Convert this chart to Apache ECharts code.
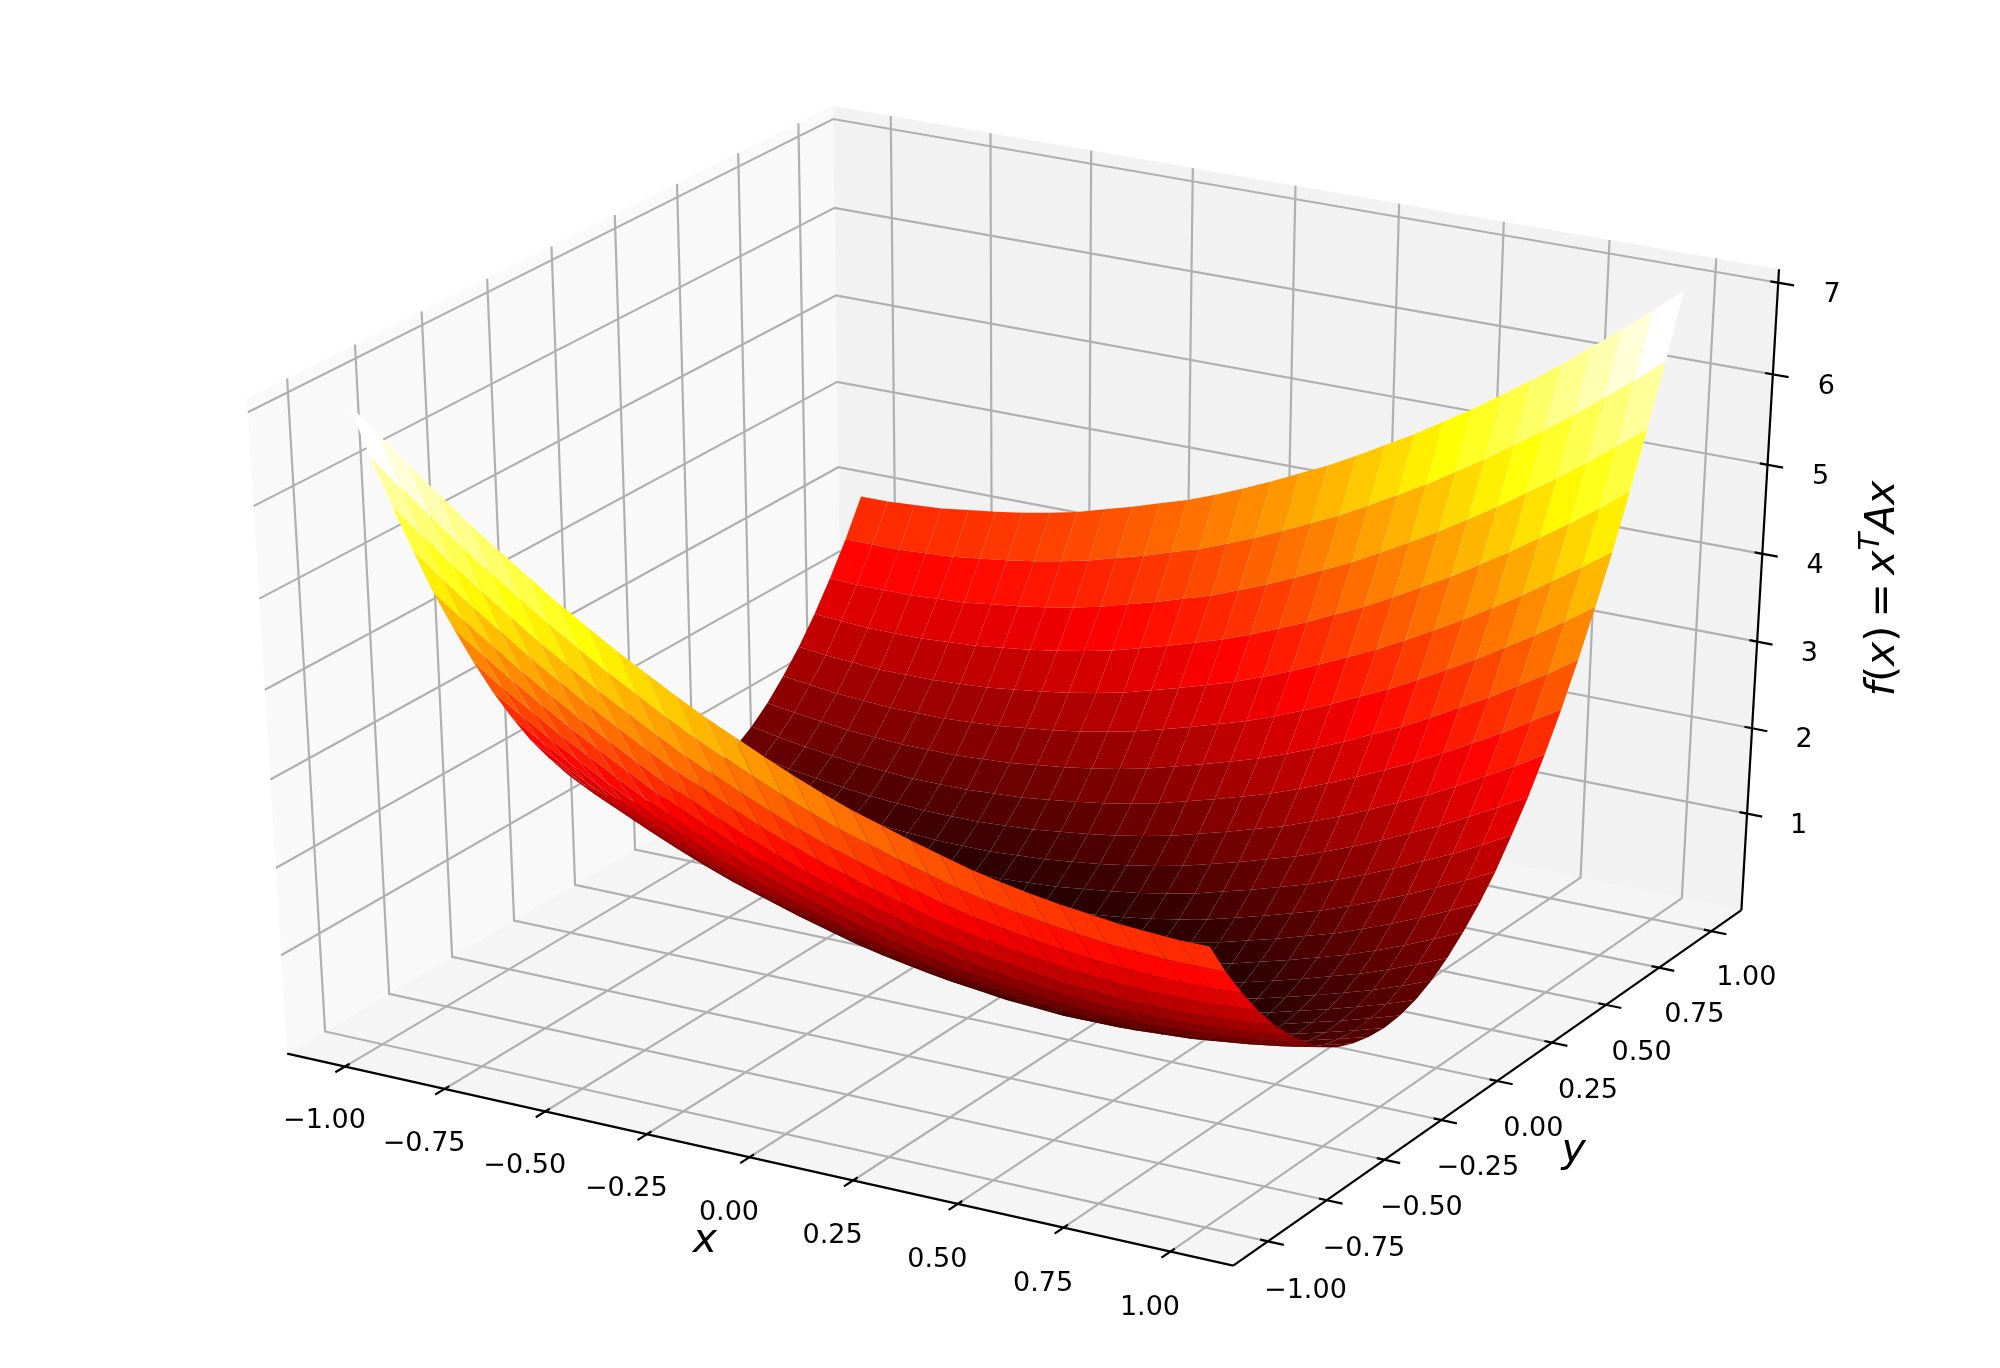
<!DOCTYPE html>
<html>
<head>
<meta charset="utf-8">
<style>html,body{margin:0;padding:0;background:#fff}#c{width:2000px;height:1368px}</style>
<script src="https://cdn.jsdelivr.net/npm/echarts@6/dist/echarts.min.js"></script>
</head>
<body>
<div id="c"></div>
<script>
// Surface sample positions
const xValues = [-1,-0.931,-0.862,-0.793,-0.724,-0.655,-0.586,-0.517,-0.448,-0.379,-0.31,-0.241,-0.172,-0.103,-0.034,0.034,0.103,0.172,0.241,0.31,0.379,0.448,0.517,0.586,0.655,0.724,0.793,0.862,0.931,1];
const yValues = xValues.slice();
// f(x) values: one row per y, one column per x
const zRows = [
[7.00,6.73,6.47,6.22,5.97,5.74,5.52,5.30,5.10,4.90,4.72,4.54,4.37,4.22,4.07,3.93,3.80,3.68,3.58,3.48,3.39,3.30,3.23,3.17,3.12,3.08,3.04,3.02,3.00,3.00],
[6.33,6.07,5.82,5.57,5.34,5.12,4.90,4.70,4.50,4.32,4.14,3.97,3.82,3.67,3.53,3.40,3.28,3.18,3.08,2.99,2.90,2.83,2.77,2.72,2.68,2.64,2.62,2.60,2.60,2.60],
[5.70,5.45,5.20,4.97,4.75,4.53,4.33,4.13,3.95,3.77,3.60,3.45,3.30,3.16,3.03,2.91,2.81,2.71,2.62,2.53,2.46,2.40,2.35,2.31,2.27,2.25,2.23,2.23,2.23,2.25],
[5.11,4.86,4.63,4.41,4.19,3.99,3.79,3.61,3.43,3.26,3.11,2.96,2.82,2.69,2.57,2.47,2.37,2.28,2.19,2.12,2.06,2.01,1.97,1.93,1.91,1.89,1.89,1.89,1.91,1.93],
[4.54,4.31,4.09,3.87,3.67,3.47,3.29,3.11,2.94,2.79,2.64,2.50,2.37,2.25,2.15,2.05,1.96,1.87,1.80,1.74,1.69,1.65,1.61,1.59,1.57,1.57,1.57,1.59,1.61,1.65],
[4.03,3.81,3.59,3.39,3.19,3.01,2.83,2.66,2.51,2.36,2.22,2.09,1.97,1.87,1.77,1.68,1.59,1.52,1.46,1.41,1.37,1.33,1.31,1.29,1.29,1.29,1.31,1.33,1.37,1.41],
[3.55,3.33,3.13,2.93,2.75,2.57,2.40,2.25,2.10,1.96,1.83,1.71,1.61,1.51,1.42,1.33,1.26,1.20,1.15,1.11,1.07,1.05,1.03,1.03,1.03,1.05,1.07,1.11,1.15,1.20],
[3.10,2.90,2.70,2.52,2.34,2.17,2.02,1.87,1.73,1.60,1.48,1.38,1.28,1.19,1.10,1.03,0.97,0.92,0.88,0.84,0.82,0.80,0.80,0.80,0.82,0.84,0.88,0.92,0.97,1.03],
[2.70,2.50,2.32,2.14,1.97,1.82,1.67,1.53,1.40,1.28,1.18,1.08,0.99,0.90,0.83,0.77,0.72,0.68,0.64,0.62,0.60,0.60,0.60,0.62,0.64,0.68,0.72,0.77,0.83,0.90],
[2.33,2.15,1.97,1.80,1.65,1.50,1.36,1.23,1.11,1.01,0.91,0.82,0.73,0.66,0.60,0.55,0.51,0.47,0.45,0.43,0.43,0.43,0.45,0.47,0.51,0.55,0.60,0.66,0.73,0.82],
[2.01,1.83,1.66,1.51,1.36,1.22,1.09,0.97,0.87,0.77,0.68,0.59,0.52,0.46,0.41,0.37,0.33,0.31,0.29,0.29,0.29,0.31,0.33,0.37,0.41,0.46,0.52,0.59,0.68,0.77],
[1.71,1.54,1.39,1.24,1.10,0.97,0.85,0.75,0.65,0.56,0.47,0.40,0.34,0.29,0.25,0.21,0.19,0.17,0.17,0.17,0.19,0.21,0.25,0.29,0.34,0.40,0.47,0.56,0.65,0.75],
[1.46,1.31,1.16,1.02,0.89,0.77,0.67,0.57,0.48,0.39,0.32,0.26,0.21,0.17,0.13,0.11,0.09,0.09,0.09,0.11,0.13,0.17,0.21,0.26,0.32,0.39,0.48,0.57,0.67,0.77],
[1.25,1.10,0.96,0.83,0.71,0.61,0.51,0.42,0.33,0.26,0.20,0.15,0.11,0.07,0.05,0.03,0.03,0.03,0.05,0.07,0.11,0.15,0.20,0.26,0.33,0.42,0.51,0.61,0.71,0.83],
[1.07,0.93,0.80,0.68,0.58,0.48,0.39,0.30,0.23,0.17,0.12,0.08,0.04,0.02,0.00,0.00,0.00,0.02,0.04,0.08,0.12,0.17,0.23,0.30,0.39,0.48,0.58,0.68,0.80,0.93],
[0.93,0.80,0.68,0.58,0.48,0.39,0.30,0.23,0.17,0.12,0.08,0.04,0.02,0.00,0.00,0.00,0.02,0.04,0.08,0.12,0.17,0.23,0.30,0.39,0.48,0.58,0.68,0.80,0.93,1.07],
[0.83,0.71,0.61,0.51,0.42,0.33,0.26,0.20,0.15,0.11,0.07,0.05,0.03,0.03,0.03,0.05,0.07,0.11,0.15,0.20,0.26,0.33,0.42,0.51,0.61,0.71,0.83,0.96,1.10,1.25],
[0.77,0.67,0.57,0.48,0.39,0.32,0.26,0.21,0.17,0.13,0.11,0.09,0.09,0.09,0.11,0.13,0.17,0.21,0.26,0.32,0.39,0.48,0.57,0.67,0.77,0.89,1.02,1.16,1.31,1.46],
[0.75,0.65,0.56,0.47,0.40,0.34,0.29,0.25,0.21,0.19,0.17,0.17,0.17,0.19,0.21,0.25,0.29,0.34,0.40,0.47,0.56,0.65,0.75,0.85,0.97,1.10,1.24,1.39,1.54,1.71],
[0.77,0.68,0.59,0.52,0.46,0.41,0.37,0.33,0.31,0.29,0.29,0.29,0.31,0.33,0.37,0.41,0.46,0.52,0.59,0.68,0.77,0.87,0.97,1.09,1.22,1.36,1.51,1.66,1.83,2.01],
[0.82,0.73,0.66,0.60,0.55,0.51,0.47,0.45,0.43,0.43,0.43,0.45,0.47,0.51,0.55,0.60,0.66,0.73,0.82,0.91,1.01,1.11,1.23,1.36,1.50,1.65,1.80,1.97,2.15,2.33],
[0.90,0.83,0.77,0.72,0.68,0.64,0.62,0.60,0.60,0.60,0.62,0.64,0.68,0.72,0.77,0.83,0.90,0.99,1.08,1.18,1.28,1.40,1.53,1.67,1.82,1.97,2.14,2.32,2.50,2.70],
[1.03,0.97,0.92,0.88,0.84,0.82,0.80,0.80,0.80,0.82,0.84,0.88,0.92,0.97,1.03,1.10,1.19,1.28,1.38,1.48,1.60,1.73,1.87,2.02,2.17,2.34,2.52,2.70,2.90,3.10],
[1.20,1.15,1.11,1.07,1.05,1.03,1.03,1.03,1.05,1.07,1.11,1.15,1.20,1.26,1.33,1.42,1.51,1.61,1.71,1.83,1.96,2.10,2.25,2.40,2.57,2.75,2.93,3.13,3.33,3.55],
[1.41,1.37,1.33,1.31,1.29,1.29,1.29,1.31,1.33,1.37,1.41,1.46,1.52,1.59,1.68,1.77,1.87,1.97,2.09,2.22,2.36,2.51,2.66,2.83,3.01,3.19,3.39,3.59,3.81,4.03],
[1.65,1.61,1.59,1.57,1.57,1.57,1.59,1.61,1.65,1.69,1.74,1.80,1.87,1.96,2.05,2.15,2.25,2.37,2.50,2.64,2.79,2.94,3.11,3.29,3.47,3.67,3.87,4.09,4.31,4.54],
[1.93,1.91,1.89,1.89,1.89,1.91,1.93,1.97,2.01,2.06,2.12,2.19,2.28,2.37,2.47,2.57,2.69,2.82,2.96,3.11,3.26,3.43,3.61,3.79,3.99,4.19,4.41,4.63,4.86,5.11],
[2.25,2.23,2.23,2.23,2.25,2.27,2.31,2.35,2.40,2.46,2.53,2.62,2.71,2.81,2.91,3.03,3.16,3.30,3.45,3.60,3.77,3.95,4.13,4.33,4.53,4.75,4.97,5.20,5.45,5.70],
[2.60,2.60,2.60,2.62,2.64,2.68,2.72,2.77,2.83,2.90,2.99,3.08,3.18,3.28,3.40,3.53,3.67,3.82,3.97,4.14,4.32,4.50,4.70,4.90,5.12,5.34,5.57,5.82,6.07,6.33],
[3.00,3.00,3.02,3.04,3.08,3.12,3.17,3.23,3.30,3.39,3.48,3.58,3.68,3.80,3.93,4.07,4.22,4.37,4.54,4.72,4.90,5.10,5.30,5.52,5.74,5.97,6.22,6.47,6.73,7.00]
];
// Axis ticks and labels
const xTicks = [-1,-0.75,-0.5,-0.25,0,0.25,0.5,0.75,1];
const xTickLabels = ['\u22121.00','\u22120.75','\u22120.50','\u22120.25','0.00','0.25','0.50','0.75','1.00'];
const yTicks = xTicks.slice();
const yTickLabels = xTickLabels.slice();
const zTicks = [1,2,3,4,5,6,7];
const zTickLabels = ['1','2','3','4','5','6','7'];
// Axis limits
const xLim = [-1.1,1.1];
const yLim = [-1.1,1.1];
const zLim = [0,7];
// "hot" colour ramp stops
const hotRed = [[0,0.0416],[0.365079,1],[1,1]];
const hotGreen = [[0,0],[0.365079,0],[0.746032,1],[1,1]];
const hotBlue = [[0,0],[0.746032,0],[1,1]];

// view settings
const ELEV = 30*Math.PI/180, AZIM = -60*Math.PI/180, DIST = 10;
const SX = 10483, SY = 7178, CX = 1026, CY = 665.2;
const FONT = '"DejaVu Sans"';
const TICK_FS = 27;
const TITLE_FS = 41;

const n = [Math.cos(AZIM)*Math.cos(ELEV), Math.sin(AZIM)*Math.cos(ELEV), Math.sin(ELEV)];
const uLen = Math.hypot(n[0],n[1]);
const u = [-n[1]/uLen, n[0]/uLen, 0];
const v = [n[1]*u[2]-n[2]*u[1], n[2]*u[0]-n[0]*u[2], n[0]*u[1]-n[1]*u[0]];
function project(x,y,z){
  const a=(x-xLim[0])/(xLim[1]-xLim[0])-0.5, b=(y-yLim[0])/(yLim[1]-yLim[0])-0.5, c=(z-zLim[0])/(zLim[1]-zLim[0])-0.5;
  const w = DIST-(n[0]*a+n[1]*b+n[2]*c);
  return {X:(u[0]*a+u[1]*b+u[2]*c)/w, Y:(v[0]*a+v[1]*b+v[2]*c)/w, w:w};
}
function ramp(stops,t){
  for(let i=1;i<stops.length;i++){
    if(t<=stops[i][0]){
      const s=stops[i-1], e=stops[i];
      return s[1]+(e[1]-s[1])*(t-s[0])/(e[0]-s[0]);
    }
  }
  return stops[stops.length-1][1];
}
function hot(t){
  t=Math.max(0,Math.min(1,t));
  return 'rgb('+Math.round(255*ramp(hotRed,t))+','+Math.round(255*ramp(hotGreen,t))+','+Math.round(255*ramp(hotBlue,t))+')';
}
// box extents: the panes sit 1/48 of the range outside the limits
const dX=(xLim[1]-xLim[0])/12, dY=(yLim[1]-yLim[0])/12, dZ=(zLim[1]-zLim[0])/12;
const x0=xLim[0]-dX/4, x1=xLim[1]+dX/4, y0=yLim[0]-dY/4, y1=yLim[1]+dY/4, z0=zLim[0]-dZ/4, z1=zLim[1]+dZ/4;

// surface facets
const facets=[];
for(let r=0;r<yValues.length-1;r++){
  for(let c=0;c<xValues.length-1;c++){
    const pts=[[xValues[c],yValues[r],zRows[r][c]],[xValues[c+1],yValues[r],zRows[r][c+1]],[xValues[c+1],yValues[r+1],zRows[r+1][c+1]],[xValues[c],yValues[r+1],zRows[r+1][c]]];
    const proj=pts.map(p=>project(p[0],p[1],p[2]));
    const avg=pts.reduce((s,p)=>s+p[2],0)/4;
    const depth=proj.reduce((s,p)=>s+p.w,0)/4;
    facets.push({proj,avg,depth});
  }
}
facets.sort((a,b)=>b.depth-a.depth);
const avgMin=Math.min.apply(null,facets.map(f=>f.avg)), avgMax=Math.max.apply(null,facets.map(f=>f.avg));
facets.forEach(f=>{f.color=hot((f.avg-avgMin)/(avgMax-avgMin));});

// panes
const panes=[
 {fill:'#f9f9f9',pts:[[x0,y0,z0],[x0,y1,z0],[x0,y1,z1],[x0,y0,z1]]},
 {fill:'#f2f2f2',pts:[[x0,y1,z0],[x1,y1,z0],[x1,y1,z1],[x0,y1,z1]]},
 {fill:'#f5f5f5',pts:[[x0,y0,z0],[x1,y0,z0],[x1,y1,z0],[x0,y1,z0]]}
];
// grid lines
const gridLines=[];
xTicks.forEach(t=>gridLines.push([[t,y0,z0],[t,y1,z0],[t,y1,z1]]));
yTicks.forEach(t=>gridLines.push([[x1,t,z0],[x0,t,z0],[x0,t,z1]]));
zTicks.forEach(t=>gridLines.push([[x0,y0,t],[x0,y1,t],[x1,y1,t]]));
// axis lines and tick marks
const blackLines=[[[x0,y0,z0],[x1,y0,z0]],[[x1,y0,z0],[x1,y1,z0]],[[x1,y1,z0],[x1,y1,z1]]];
xTicks.forEach(t=>blackLines.push([[t,y0-0.2*dY,z0],[t,y0+0.1*dY,z0]]));
yTicks.forEach(t=>blackLines.push([[x1+0.2*dX,t,z0],[x1-0.1*dX,t,z0]]));
zTicks.forEach(t=>blackLines.push([[x1+0.2*dX,y1,t],[x1-0.1*dX,y1,t]]));
// texts
const LD=0.455, LT=0.99;
const texts=[];
xTicks.forEach((t,i)=>texts.push({p:[t,y0-LD*dY,z0-LD*dZ],s:xTickLabels[i],dy:19,dx:0}));
yTicks.forEach((t,i)=>texts.push({p:[x1+LD*dX,t,z0-LD*dZ],s:yTickLabels[i],dy:18,dx:2}));
zTicks.forEach((t,i)=>texts.push({p:[x1+LD*dX,y1+LD*dY,t],s:zTickLabels[i],dy:17,dx:0}));
const titles=[
 {p:[0,y0-LT*dY,z0-LT*dZ],text:'{i|x}',rot:0,dy:5,dx:0},
 {p:[x1+LT*dX,0,z0-LT*dZ],text:'{i|y}',rot:0,dy:5,dx:2},
 {p:[x1+LT*dX,y1+LT*dY,(zLim[0]+zLim[1])/2],text:'{i|f}{r|(}{i|x}{r|)}{g| }{r|=}{g| }{i|x}{s|T}{i|Ax}',rot:Math.PI/2,dy:1,dx:10}
];
const rich={
 i:{fontFamily:FONT,fontStyle:'italic',fontSize:TITLE_FS,lineHeight:54,fill:'#000',verticalAlign:'middle'},
 r:{fontFamily:FONT,fontSize:TITLE_FS,lineHeight:54,fill:'#000',verticalAlign:'middle'},
 g:{fontFamily:FONT,fontSize:26,lineHeight:54,fill:'#000',verticalAlign:'middle'},
 s:{fontFamily:FONT,fontStyle:'italic',fontSize:29,lineHeight:30,fill:'#000',verticalAlign:'top'}
};

function pos(api,p){return api.coord([p.X,p.Y]);}
function polyPts(api,list){return list.map(q=>{const p=project(q[0],q[1],q[2]);return pos(api,p);});}
const common={type:'custom',silent:true,animation:false,clip:false,coordinateSystem:'cartesian2d',encode:{x:0,y:1}};
const idx=a=>a.map((_,i)=>[i,0]);

const chart=echarts.init(document.getElementById('c'),null,{renderer:'canvas',width:2000,height:1368});
chart.setOption({
 animation:false,
 backgroundColor:'#fff',
 grid:{left:0,top:0,width:2000,height:1368},
 xAxis:{type:'value',show:false,min:(0-CX)/SX,max:(2000-CX)/SX},
 yAxis:{type:'value',show:false,min:(CY-1368)/SY,max:CY/SY},
 series:[
  Object.assign({},common,{z:1,data:idx(panes),renderItem:(o,api)=>{
    const e=panes[o.dataIndex];
    return {type:'polygon',shape:{points:polyPts(api,e.pts)},style:{fill:e.fill,stroke:null}};
  }}),
  Object.assign({},common,{z:2,data:idx(gridLines),renderItem:(o,api)=>({
    type:'polyline',shape:{points:polyPts(api,gridLines[o.dataIndex])},style:{fill:null,stroke:'#b0b0b0',lineWidth:2.2}
  })}),
  Object.assign({},common,{z:3,data:idx(blackLines),renderItem:(o,api)=>({
    type:'polyline',shape:{points:polyPts(api,blackLines[o.dataIndex])},style:{fill:null,stroke:'#000',lineWidth:2.2}
  })}),
  Object.assign({},common,{z:4,data:idx(texts),renderItem:(o,api)=>{
    const t=texts[o.dataIndex], c=pos(api,project(t.p[0],t.p[1],t.p[2]));
    return {type:'text',x:c[0]+t.dx,y:c[1]+t.dy,style:{text:t.s,fontFamily:FONT,fontSize:TICK_FS,fill:'#000',align:'center',verticalAlign:'middle'}};
  }}),
  Object.assign({},common,{z:5,data:idx(titles),renderItem:(o,api)=>{
    const t=titles[o.dataIndex], c=pos(api,project(t.p[0],t.p[1],t.p[2]));
    return {type:'text',x:c[0]+t.dx,y:c[1]+t.dy,rotation:t.rot,style:{text:t.text,rich:rich,align:'center',verticalAlign:'middle'}};
  }}),
  Object.assign({},common,{z:6,data:idx(facets),renderItem:(o,api)=>{
    const f=facets[o.dataIndex];
    return {type:'polygon',shape:{points:f.proj.map(p=>pos(api,p))},style:{fill:f.color,stroke:null}};
  }})
 ]
});
</script>
</body>
</html>
